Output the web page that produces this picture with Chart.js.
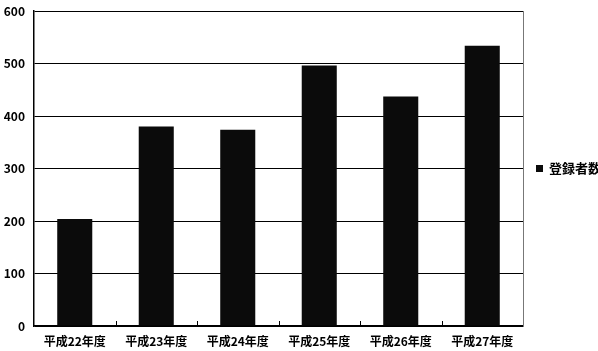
<!DOCTYPE html>
<html>
<head>
<meta charset="utf-8">
<script src="https://cdn.jsdelivr.net/npm/chart.js@4/dist/chart.umd.min.js"></script>
<style>
    html, body { margin: 0; padding: 0; background: #fff; overflow: hidden; }
    #wrap { position: relative; width: 598px; height: 351px; }
    #legend { position: absolute; left: 536px; top: 158px; white-space: nowrap;
              font: bold 13px "Noto Sans CJK JP", "Noto Sans", sans-serif; color: #000; line-height: 20px; }
    #legend .box { display: inline-block; width: 7px; height: 7px; margin-right: 6px; vertical-align: 1px; }
</style>
</head>
<body>
<div id="wrap">
    <canvas id="myChart"></canvas>
    <div id="legend"></div>
</div>
<script>
const categories = ['平成22年度', '平成23年度', '平成24年度', '平成25年度', '平成26年度', '平成27年度'];
const seriesLabel = '登録者数';
const registrants = [204, 380, 374, 496, 437, 534];
const yTicks = [0, 100, 200, 300, 400, 500, 600];

const fontFamily = '"Noto Sans CJK JP", "Noto Sans", sans-serif';
const barColor = '#0b0b0b';

// gray right edge of the plot frame + small inward ticks between categories
const frameExtras = {
    id: 'frameExtras',
    afterDraw(chart) {
        const { ctx, chartArea } = chart;
        const xScale = chart.scales.x;
        ctx.save();
        ctx.strokeStyle = '#777';
        ctx.lineWidth = 1;
        ctx.beginPath();
        ctx.moveTo(Math.round(chartArea.right) + 0.5, chartArea.top);
        ctx.lineTo(Math.round(chartArea.right) + 0.5, chartArea.bottom);
        ctx.stroke();

        ctx.strokeStyle = '#000';
        ctx.beginPath();
        for (let i = 1; i < categories.length; i++) {
            const x = Math.round((xScale.getPixelForValue(i - 1) + xScale.getPixelForValue(i)) / 2) + 0.5;
            ctx.moveTo(x, chartArea.bottom);
            ctx.lineTo(x, chartArea.bottom - 5);
        }
        ctx.stroke();
        ctx.restore();
    }
};

const ctx = document.getElementById('myChart').getContext('2d');
const myChart = new Chart(ctx, {
    type: 'bar',
    data: {
        labels: categories,
        datasets: [{
            label: seriesLabel,
            data: registrants,
            backgroundColor: barColor,
            borderWidth: 0,
            barPercentage: 0.43,
            categoryPercentage: 1
        }]
    },
    options: {
        responsive: true,
        maintainAspectRatio: false,
        animation: false,
        layout: { padding: { top: 11, right: 75, left: 0, bottom: 0 } },
        scales: {
            x: {
                offset: true,
                border: { display: true, color: '#000', width: 1.5 },
                grid: { display: false, drawTicks: false },
                ticks: {
                    color: '#000',
                    padding: 8,
                    maxRotation: 0,
                    autoSkip: false,
                    font: { family: fontFamily, size: 12, weight: 'bold' }
                },
                afterFit: (scale) => {
                    scale.height = 25;
                    scale.paddingLeft = 0;
                    scale.paddingRight = 0;
                }
            },
            y: {
                min: 0,
                max: 600,
                afterBuildTicks: (scale) => { scale.ticks = yTicks.map(v => ({ value: v })); },
                border: { display: true, color: '#000', width: 1.5 },
                grid: {
                    color: '#000',
                    lineWidth: 1,
                    drawTicks: false
                },
                ticks: {
                    color: '#000',
                    padding: 9,
                    font: { family: fontFamily, size: 12, weight: 'bold' }
                },
                afterFit: (scale) => {
                    scale.width = 34;
                    scale.paddingTop = 0;
                    scale.paddingBottom = 0;
                }
            }
        },
        plugins: {
            legend: { display: false },
            tooltip: { enabled: false }
        }
    },
    plugins: [frameExtras]
});

// legend as html text, built from the dataset
const legendEl = document.getElementById('legend');
myChart.data.datasets.forEach((dataset) => {
    const item = document.createElement('div');
    const box = document.createElement('span');
    box.className = 'box';
    box.style.background = dataset.backgroundColor;
    item.appendChild(box);
    item.appendChild(document.createTextNode(dataset.label));
    legendEl.appendChild(item);
});
</script>
</body>
</html>
